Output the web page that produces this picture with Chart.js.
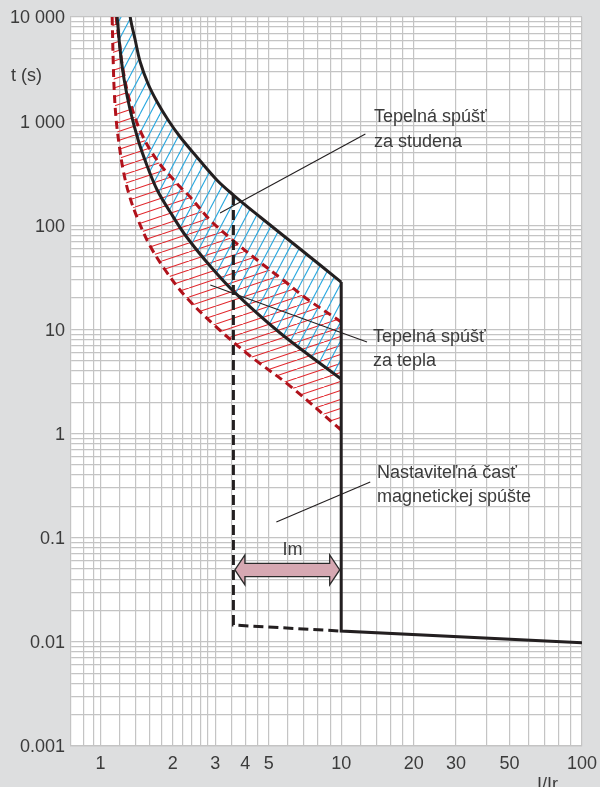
<!DOCTYPE html>
<html>
<head>
<meta charset="utf-8">
<script src="https://cdn.jsdelivr.net/npm/chart.js@4.4.1/dist/chart.umd.min.js"></script>
<style>
  html, body { margin: 0; padding: 0; background: #dddedf; }
  canvas { display: block; }
</style>
</head>
<body>
<canvas id="graf" width="600" height="787"></canvas>
<script>
/* DÁTA – I/Ir a čas t (s) */
// horná hranica za studena (plná čierna), prvý bod je nad osou kvôli výplni
const studenaHornaI = [1.16, 1.33, 1.395, 1.463, 1.579, 1.721, 1.911, 2.145, 2.475, 3.045, 3.568, 4.606, 6.75, 10];
const studenaHornaT = [100000, 10000, 6013, 3698, 2273, 1527, 1026, 704, 473, 272, 195, 120, 59.2, 28.5];
// dolná hranica za studena (plná čierna)
const studenaDolnaI = [1.174, 1.208, 1.256, 1.329, 1.435, 1.564, 1.721, 1.949, 2.249, 2.856, 3.627, 5.577, 10];
const studenaDolnaT = [10000, 4820, 2483, 1279, 659, 371, 218, 134, 80.7, 40.6, 22.4, 9.24, 3.34];
// horná hranica za tepla (červená prerušovaná)
const teplaHornaI = [1.10, 1.163, 1.197, 1.232, 1.304, 1.395, 1.505, 1.641, 1.805, 1.986, 2.145, 2.359, 2.856, 3.459, 4.477, 5.738, 7.219, 10];
const teplaHornaT = [100000, 10000, 6013, 3460, 1782, 1072, 704, 494, 363, 284, 233, 187, 112, 75.5, 46.4, 29.8, 19.6, 11.8];
// dolná hranica za tepla (červená prerušovaná)
const teplaDolnaI = [1.119, 1.130, 1.141, 1.163, 1.197, 1.243, 1.317, 1.435, 1.609, 1.858, 2.249, 2.996, 4.187, 6.137, 10];
const teplaDolnaT = [10000, 3865, 1991, 1026, 590, 340, 195, 112, 63.2, 37.2, 20.9, 10.8, 5.56, 2.86, 1.08];
// magnetická spúšť – pevná (plná) a nastaviteľná (prerušovaná)
const magnetI = [10, 10, 100];
const magnetT = [28.5, 0.0127, 0.0098];
const nastavI = [3.568, 3.568, 10];
const nastavT = [195, 0.0145, 0.0127];

/* MRIEŽKA A POPISY */
const gridX = [0.85, 0.94, 1, 1.2, 1.4, 1.6, 1.8, 2, 2.2, 2.4, 2.6, 2.8, 3, 3.5, 4, 4.5, 5, 6, 7, 8, 9,
  10, 12, 14, 16, 18, 20, 30, 40, 50, 60, 70, 80, 90, 100];
const popisX = [1, 2, 3, 4, 5, 10, 20, 30, 50, 100];
const popisXText = ["1", "2", "3", "4", "5", "10", "20", "30", "50", "100"];
const dekadyY = [0.001, 0.01, 0.1, 1, 10, 100, 1000];
const nasobkyY = [1, 2, 3, 4, 5, 6, 7, 8, 9];
const gridY = dekadyY.flatMap(d => nasobkyY.map(n => d * n)).concat([10000]);
const popisY = [0.001, 0.01, 0.1, 1, 10, 100, 1000, 10000];
const popisYText = ["0.001", "0.01", "0.1", "1", "10", "100", "1 000", "10 000"];

const PISMO = '"Liberation Sans", Arial, sans-serif';
const body = (xs, ys) => xs.map((v, i) => ({x: v, y: ys[i]}));

function popis(v, hodnoty, texty) {
  const i = hodnoty.findIndex(h => Math.abs(h - v) / h < 1e-6);
  return i >= 0 ? texty[i] : "";
}

/* ŠRAFOVANIE */
function srafovanie(farba, w, h) {
  const c = document.createElement("canvas");
  c.width = w; c.height = h;
  const g = c.getContext("2d");
  g.strokeStyle = farba;
  g.lineWidth = 1.1;
  [-1, 0, 1].forEach(k => {
    g.beginPath();
    g.moveTo(k * w, h);
    g.lineTo(k * w + w, 0);
    g.stroke();
  });
  return g.createPattern(c, "repeat");
}
const modre = srafovanie("#2aa8df", 10, 19);
const cervene = srafovanie("#e1252b", 27, 9);

/* POPISKY, ŠÍPKA, BIELA PLOCHA */
const kresba = {
  id: "kresba",
  beforeDraw(chart) {
    const {ctx, chartArea: a} = chart;
    ctx.save();
    ctx.fillStyle = "#ffffff";
    ctx.fillRect(a.left, a.top, a.width, a.height);
    ctx.restore();
  },
  afterDraw(chart) {
    const {ctx, scales: {x, y}} = chart;
    ctx.save();
    // vodiace čiary
    ctx.strokeStyle = "#231f20";
    ctx.lineWidth = 1.1;
    [[[3.14, 131], [12.6, 752]], [[2.86, 26.7], [12.8, 7.57]], [[5.38, 0.1416], [13.2, 0.342]]].forEach(([a, b]) => {
      ctx.beginPath();
      ctx.moveTo(x.getPixelForValue(a[0]), y.getPixelForValue(a[1]));
      ctx.lineTo(x.getPixelForValue(b[0]), y.getPixelForValue(b[1]));
      ctx.stroke();
    });
    // šípka Im
    const xl = x.getPixelForValue(3.568) + 1.5, xr = x.getPixelForValue(10) - 1.5;
    const yc = y.getPixelForValue(0.049);
    const bh = 6.7, hh = 15, hl = 10;
    ctx.beginPath();
    ctx.moveTo(xl, yc);
    ctx.lineTo(xl + hl, yc - hh);
    ctx.lineTo(xl + hl, yc - bh);
    ctx.lineTo(xr - hl, yc - bh);
    ctx.lineTo(xr - hl, yc - hh);
    ctx.lineTo(xr, yc);
    ctx.lineTo(xr - hl, yc + hh);
    ctx.lineTo(xr - hl, yc + bh);
    ctx.lineTo(xl + hl, yc + bh);
    ctx.lineTo(xl + hl, yc + hh);
    ctx.closePath();
    ctx.fillStyle = "#d6a8b2";
    ctx.fill();
    ctx.strokeStyle = "#2b2b2b";
    ctx.lineWidth = 1.3;
    ctx.stroke();
    // texty
    ctx.fillStyle = "#3b3b3b";
    ctx.font = "18px " + PISMO;
    ctx.textBaseline = "alphabetic";
    ctx.textAlign = "left";
    [
      ["Tepelná spúšť", 374, 122], ["za studena", 374, 147],
      ["Tepelná spúšť", 373, 342], ["za tepla", 373, 366],
      ["Nastaviteľná časť", 377, 478], ["magnetickej spúšte", 377, 502],
      ["t (s)", 11, 81], ["I/Ir", 537, 790]
    ].forEach(([t, px, py]) => ctx.fillText(t, px, py));
    ctx.textAlign = "center";
    ctx.fillText("Im", 292.5, 555);
    ctx.restore();
  }
};

const ciara = (data, farba, extra) => Object.assign({
  data: data,
  borderColor: farba,
  borderWidth: 3,
  pointRadius: 0,
  fill: false,
  tension: 0.35
}, extra);

new Chart(document.getElementById("graf"), {
  type: "line",
  data: {
    datasets: [
      ciara(body(magnetI, magnetT), "#231f20", {tension: 0}),
      ciara(body(nastavI, nastavT), "#231f20", {tension: 0, borderDash: [10, 5]}),
      ciara(body(studenaHornaI, studenaHornaT), "#231f20"),
      ciara(body(studenaDolnaI, studenaDolnaT), "#231f20", {fill: {target: 2}, backgroundColor: modre}),
      ciara(body(teplaHornaI, teplaHornaT), "#b0121b", {borderDash: [8, 5]}),
      ciara(body(teplaDolnaI, teplaDolnaT), "#b0121b", {borderDash: [8, 5], fill: {target: 4}, backgroundColor: cervene})
    ]
  },
  options: {
    responsive: false,
    animation: false,
    devicePixelRatio: 1,
    layout: { padding: { left: 0, top: 17, right: 18, bottom: 0 } },
    elements: { line: { capBezierPoints: false } },
    plugins: {
      legend: { display: false },
      tooltip: { enabled: false },
      filler: { drawTime: "beforeDatasetsDraw" }
    },
    scales: {
      x: {
        type: "logarithmic",
        min: 0.755,
        max: 100,
        afterBuildTicks: s => { s.ticks = gridX.map(v => ({value: v})); },
        afterFit: s => { s.height = 41; s.paddingLeft = 0; s.paddingRight = 0; },
        grid: { color: "#c4c4c4", lineWidth: 1.2, drawTicks: false },
        border: { color: "#c4c4c4", width: 1.2 },
        ticks: {
          autoSkip: false, maxRotation: 0, minRotation: 0, padding: 7,
          color: "#3b3b3b", font: { family: PISMO, size: 18 },
          callback: v => popis(v, popisX, popisXText)
        }
      },
      y: {
        type: "logarithmic",
        min: 0.001,
        max: 10000,
        afterBuildTicks: s => { s.ticks = gridY.map(v => ({value: v})); },
        afterFit: s => { s.width = 71; s.paddingTop = 0; s.paddingBottom = 0; },
        grid: { color: "#c4c4c4", lineWidth: 1.2, drawTicks: false },
        border: { color: "#c4c4c4", width: 1.2 },
        ticks: {
          autoSkip: false, padding: 6, labelOffset: 1.5,
          color: "#3b3b3b", font: { family: PISMO, size: 18 },
          callback: v => popis(v, popisY, popisYText)
        }
      }
    }
  },
  plugins: [kresba]
});
</script>
</body>
</html>
